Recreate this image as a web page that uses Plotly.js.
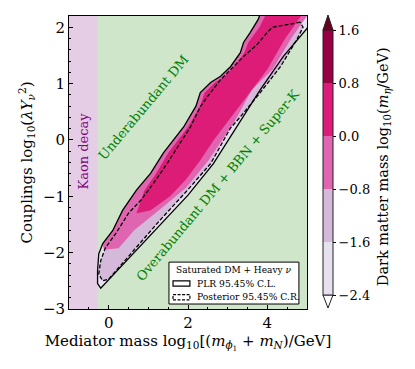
<!DOCTYPE html>
<html>
<head>
<meta charset="utf-8">
<script src="https://cdn.plot.ly/plotly-3.0.1.min.js"></script>
<style>
  body { margin: 0; background: #fff; }
  #chart { width: 415px; height: 369px; }
</style>
</head>
<body>
<div id="chart"></div>
<script>
// PLR 95.45% C.L. contour (solid)
const plrX = [3.85, 3.77, 3.57, 3.40, 3.32, 3.07, 2.82, 2.57, 2.31, 2.20, 1.89, 1.64, 1.38, 1.06, 0.70, 0.35, 0.10, -0.15, -0.25, -0.28, -0.28, -0.20,
              0.50, 1.20, 2.00, 2.64, 3.32, 3.82, 4.40, 5.00, 5.10, 5.10, 3.85];
const plrY = [2.30, 2.14, 1.91, 1.73, 1.55, 1.30, 1.13, 1.02, 0.84, 0.60, 0.23, 0.00, -0.23, -0.59, -0.89, -1.25, -1.61, -1.84, -2.02, -2.32, -2.55, -2.63,
              -2.10, -1.57, -0.98, -0.42, 0.34, 0.89, 1.48, 1.98, 2.10, 2.30, 2.30];

// Posterior 95.45% C.R. contour (dashed)
const postX = [4.83, 4.40, 4.13, 4.00, 3.75, 3.40, 3.14, 2.82, 2.49, 2.31, 2.06, 1.81, 1.48, 1.13, 0.81, 0.50, 0.18, -0.08, -0.20, -0.25, -0.15, 0.00,
               0.60, 1.30, 1.95, 2.57, 3.07, 3.32, 3.82, 4.33, 4.75, 4.90, 4.83];
const postY = [2.09, 2.04, 2.00, 1.91, 1.70, 1.48, 1.30, 1.07, 0.77, 0.59, 0.23, -0.05, -0.41, -0.77, -1.07, -1.30, -1.66, -1.91, -2.14, -2.38, -2.50, -2.47,
               -1.98, -1.42, -0.92, -0.42, 0.21, 0.41, 0.84, 1.30, 1.79, 2.00, 2.09];

// region where sampled points sit in the -0.8..0 mass bin
const midX = [3.85, 3.77, 3.57, 3.40, 3.32, 3.07, 2.82, 2.57, 2.31, 2.20, 1.89, 1.64, 1.38, 1.06, 0.70, 0.35, 0.10, -0.15, -0.12,
              0.25, 0.65, 1.26, 1.95, 2.52, 3.15, 3.62, 4.13, 4.60, 5.05, 3.85];
const midY = [2.30, 2.14, 1.91, 1.73, 1.55, 1.30, 1.13, 1.02, 0.84, 0.60, 0.23, 0.00, -0.23, -0.59, -0.89, -1.25, -1.61, -1.84, -1.95,
              -1.92, -1.60, -1.25, -0.85, -0.36, 0.30, 0.90, 1.25, 1.80, 2.25, 2.30];

// region where sampled points sit in the 0..0.8 mass bin
const highX = [3.98, 3.80, 3.52, 3.42, 3.17, 2.93, 2.68, 2.42, 2.30, 2.00, 1.50, 1.20, 0.90, 0.70, 1.05,
               1.55, 1.95, 2.31, 2.65, 3.30, 4.00, 4.45, 4.85, 3.98];
const highY = [2.25, 2.00, 1.73, 1.55, 1.30, 1.13, 1.02, 0.84, 0.60, 0.23, -0.23, -0.59, -0.90, -1.30, -1.25,
               -1.00, -0.70, -0.36, 0.00, 0.60, 1.25, 1.80, 2.20, 2.25];

// colour bins of the dark matter mass
const massLevels = [-2.4, -1.6, -0.8, 0.0, 0.8, 1.6];
const massLabels = ['\u22122.4', '\u22121.6', '\u22120.8', '0.0', '0.8', '1.6'];
const massColors = ['#e7e1ef', '#d4b9da', '#df65b0', '#dd1c77', '#980043'];

const kaonEdge = -0.28;

const serif = 'DejaVu Serif';

function binScale() {
  const n = massColors.length;
  const s = [];
  massColors.forEach((c, i) => {
    s.push([i / n, c]);
    s.push([(i + 1) / n, c]);
  });
  return s;
}

const traces = [
  {x: plrX, y: plrY, type: 'scatter', mode: 'lines', fill: 'toself',
   fillcolor: massColors[0], line: {width: 0}, hoverinfo: 'skip', showlegend: false},
  {x: postX, y: postY, type: 'scatter', mode: 'lines', fill: 'toself',
   fillcolor: massColors[1], line: {width: 0}, hoverinfo: 'skip', showlegend: false},
  {x: midX, y: midY, type: 'scatter', mode: 'lines', fill: 'toself',
   fillcolor: massColors[2], line: {width: 0}, hoverinfo: 'skip', showlegend: false},
  {x: highX, y: highY, type: 'scatter', mode: 'lines', fill: 'toself',
   fillcolor: massColors[3], line: {width: 0}, hoverinfo: 'skip', showlegend: false},
  {x: plrX, y: plrY, type: 'scatter', mode: 'lines',
   line: {color: '#000', width: 1.3}, showlegend: false},
  {x: postX, y: postY, type: 'scatter', mode: 'lines',
   line: {color: '#000', width: 1.3, dash: '4px,2px'}, showlegend: false},
  // colour scale only
  {x: [null], y: [null], type: 'scatter', mode: 'markers', showlegend: false,
   marker: {color: [0], cmin: massLevels[0], cmax: massLevels[massLevels.length - 1],
            colorscale: binScale(), showscale: true,
            colorbar: {x: 1.067, xanchor: 'left', xpad: 0, ypad: 0,
                       y: 0.5, yanchor: 'middle', len: 265, lenmode: 'pixels',
                       thickness: 10, outlinewidth: 1, outlinecolor: '#222',
                       tickvals: massLevels, ticktext: massLabels,
                       ticks: 'outside', ticklen: 3, tickcolor: '#000',
                       tickfont: {family: serif, size: 13, color: '#000'}}}}
];

// paper-coordinate helpers for the colourbar ends and the legend
const cbL = 1.0672, cbR = 1.1092, cbM = (cbL + cbR) / 2;

const layout = {
  width: 415, height: 369,
  margin: {l: 69, r: 108, t: 16, b: 60},
  paper_bgcolor: '#fff',
  plot_bgcolor: '#cfe6cb',
  font: {family: serif, size: 15, color: '#000'},
  xaxis: {
    range: [-1, 5], tick0: 0, dtick: 2, ticks: 'inside', ticklen: 4, tickcolor: '#000',
    showgrid: false, zeroline: false, showline: true, linecolor: '#000', linewidth: 1, mirror: true,
    minor: {dtick: 0.5, ticks: 'inside', ticklen: 2, tickcolor: '#000'},
    tickfont: {family: serif, size: 15},
    title: {text: 'Mediator mass log<sub>10</sub>[(<i>m</i><sub><i>ϕ</i><sub>1</sub></sub> + <i>m</i><sub><i>N</i></sub>)/GeV]',
            font: {family: serif, size: 15}, standoff: 4}
  },
  yaxis: {
    range: [-3, 2.2], tick0: 0, dtick: 1, ticks: 'inside', ticklen: 4, tickcolor: '#000',
    showgrid: false, zeroline: false, showline: true, linecolor: '#000', linewidth: 1, mirror: true,
    minor: {dtick: 0.2, ticks: 'inside', ticklen: 2, tickcolor: '#000'},
    tickfont: {family: serif, size: 15},
    title: {text: 'Couplings log<sub>10</sub>(<i>λY</i><sub><i>ν</i></sub><sup>2</sup>)',
            font: {family: serif, size: 15}, standoff: 6}
  },
  shapes: [
    {type: 'rect', xref: 'x', yref: 'paper', x0: -1, x1: kaonEdge, y0: 0, y1: 1,
     fillcolor: '#e5cde6', line: {width: 0}, layer: 'below'},
    // colourbar extension triangles
    {type: 'path', xref: 'paper', yref: 'paper',
     path: `M ${cbL} 0.952 L ${cbM} 1.0034 L ${cbR} 0.952 Z`,
     fillcolor: '#67001f', line: {color: '#222', width: 1}},
    {type: 'path', xref: 'paper', yref: 'paper',
     path: `M ${cbL} 0.0478 L ${cbM} 0.0034 L ${cbR} 0.0478 Z`,
     fillcolor: '#ffffff', line: {color: '#222', width: 1}},
    // legend box
    {type: 'rect', xref: 'paper', yref: 'paper', x0: 0.420, x1: 0.966, y0: 0.017, y1: 0.160,
     fillcolor: '#fff', line: {color: '#000', width: 1}},
    {type: 'rect', xref: 'paper', yref: 'paper', x0: 0.437, x1: 0.508, y0: 0.078, y1: 0.096,
     fillcolor: '#fff', line: {color: '#000', width: 1.2}},
    {type: 'rect', xref: 'paper', yref: 'paper', x0: 0.437, x1: 0.508, y0: 0.031, y1: 0.049,
     fillcolor: '#fff', line: {color: '#000', width: 1.2, dash: '3px,1.5px'}}
  ],
  annotations: [
    {x: -0.64, y: -0.2, xref: 'x', yref: 'y', text: 'Kaon decay', textangle: -90, showarrow: false,
     xanchor: 'center', yanchor: 'middle', font: {family: serif, size: 13, color: '#800080'}},
    {x: 0.88, y: 0.57, xref: 'x', yref: 'y', text: 'Underabundant DM', textangle: -50, showarrow: false,
     xanchor: 'center', yanchor: 'middle', font: {family: serif, size: 13, color: '#008000'}},
    {x: 2.74, y: -0.80, xref: 'x', yref: 'y', text: 'Overabundant DM + BBN + Super-K', textangle: -50, showarrow: false,
     xanchor: 'center', yanchor: 'middle', font: {family: serif, size: 13, color: '#008000'}},
    {x: 0.693, y: 0.133, xref: 'paper', yref: 'paper', text: 'Saturated DM + Heavy <i>ν</i>', showarrow: false,
     xanchor: 'center', yanchor: 'middle', font: {family: serif, size: 9}},
    {x: 0.529, y: 0.087, xref: 'paper', yref: 'paper', text: 'PLR 95.45% C.L.', showarrow: false,
     xanchor: 'left', yanchor: 'middle', font: {family: serif, size: 9.2}},
    {x: 0.529, y: 0.041, xref: 'paper', yref: 'paper', text: 'Posterior 95.45% C.R.', showarrow: false,
     xanchor: 'left', yanchor: 'middle', font: {family: serif, size: 9.2}},
    {x: 1.325, y: 0.485, xref: 'paper', yref: 'paper', textangle: -90, showarrow: false,
     xanchor: 'center', yanchor: 'middle',
     text: 'Dark matter mass log<sub>10</sub>(<i>m</i><sub><i>η</i></sub>/GeV)',
     font: {family: serif, size: 14.5}}
  ]
};

Plotly.newPlot('chart', traces, layout, {displayModeBar: false, staticPlot: true});
</script>
</body>
</html>
